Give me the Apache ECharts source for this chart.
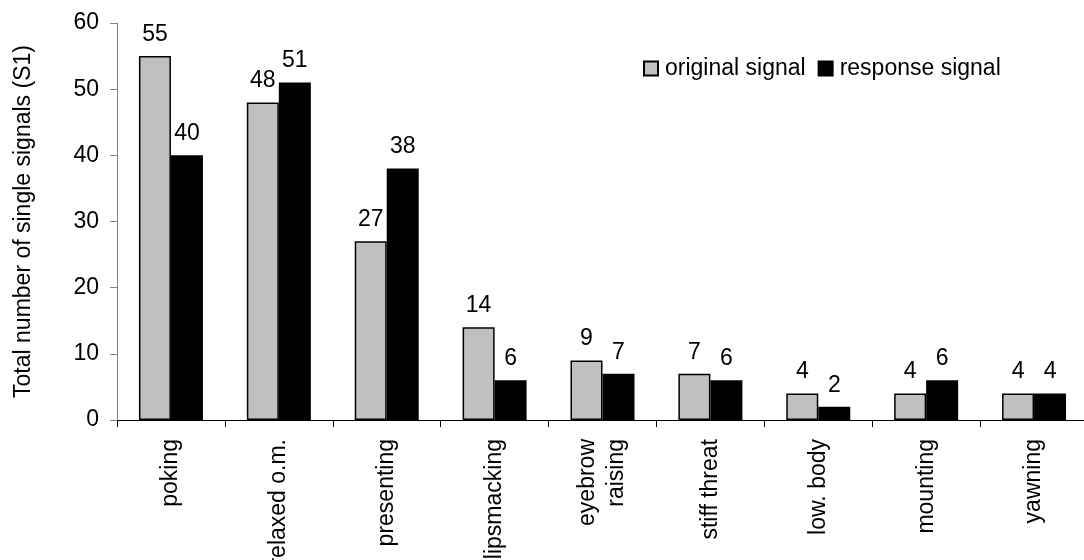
<!DOCTYPE html>
<html>
<head>
<meta charset="utf-8">
<script src="https://cdn.jsdelivr.net/npm/echarts@6/dist/echarts.min.js"></script>
<style>
  html, body { margin: 0; padding: 0; background: #fff; }
  #main { width: 1084px; height: 560px; }
</style>
</head>
<body>
<div id="main"></div>
<script>
// data
var categories = ['poking', 'relaxed o.m.', 'presenting', 'lipsmacking', 'eyebrow\nraising',
  'stiff threat', 'low. body', 'mounting', 'yawning'];
var originalSignal = [55, 48, 27, 14, 9, 7, 4, 4, 4];
var responseSignal = [40, 51, 38, 6, 7, 6, 2, 6, 4];
var yTicks = { min: 0, max: 60, interval: 10 };

var font = 'Liberation Sans, Arial, sans-serif';
var fs = 23;

var option = {
  animation: false,
  textStyle: { fontFamily: font },
  legend: {
    left: 643,
    top: 57,
    padding: 0,
    icon: 'rect',
    itemWidth: 14,
    itemHeight: 14,
    itemGap: 12,
    textStyle: { fontSize: fs, color: '#000', fontFamily: font, padding: [0, 0, 0, 2] },
    data: ['original signal', 'response signal']
  },
  grid: { left: 117, top: 23, width: 971, height: 397, containLabel: false, outerBoundsMode: 'none' },
  xAxis: {
    type: 'category',
    data: categories,
    axisLine: { lineStyle: { color: '#000', width: 1 } },
    axisTick: { show: true, length: 7, lineStyle: { color: '#000' } },
    axisLabel: { rotate: 90, fontSize: fs, color: '#000', margin: 19, fontFamily: font, lineHeight: 29 }
  },
  yAxis: {
    type: 'value',
    min: yTicks.min, max: yTicks.max, interval: yTicks.interval,
    name: 'Total number of single signals (S1)',
    nameLocation: 'middle',
    nameGap: 82,
    nameTextStyle: { fontSize: fs, color: '#000', fontFamily: font },
    splitLine: { show: false },
    axisLine: { show: true, lineStyle: { color: '#808080', width: 1 } },
    axisTick: { show: true, length: 7, lineStyle: { color: '#808080' } },
    axisLabel: { fontSize: fs, color: '#000', margin: 18, fontFamily: font }
  },
  series: [
    {
      name: 'original signal',
      type: 'bar',
      data: originalSignal,
      barWidth: 32,
      barGap: '0%',
      itemStyle: { color: '#c0c0c0', borderColor: '#000', borderWidth: 1.5 },
      label: { show: true, position: 'top', distance: 10, fontSize: fs, color: '#000', fontFamily: font }
    },
    {
      name: 'response signal',
      type: 'bar',
      data: responseSignal,
      barWidth: 32,
      itemStyle: { color: '#000', borderColor: '#000', borderWidth: 1.5 },
      label: { show: true, position: 'top', distance: 10, fontSize: fs, color: '#000', fontFamily: font }
    }
  ]
};

var myChart = echarts.init(document.getElementById('main'));
myChart.setOption(option);
</script>
</body>
</html>
